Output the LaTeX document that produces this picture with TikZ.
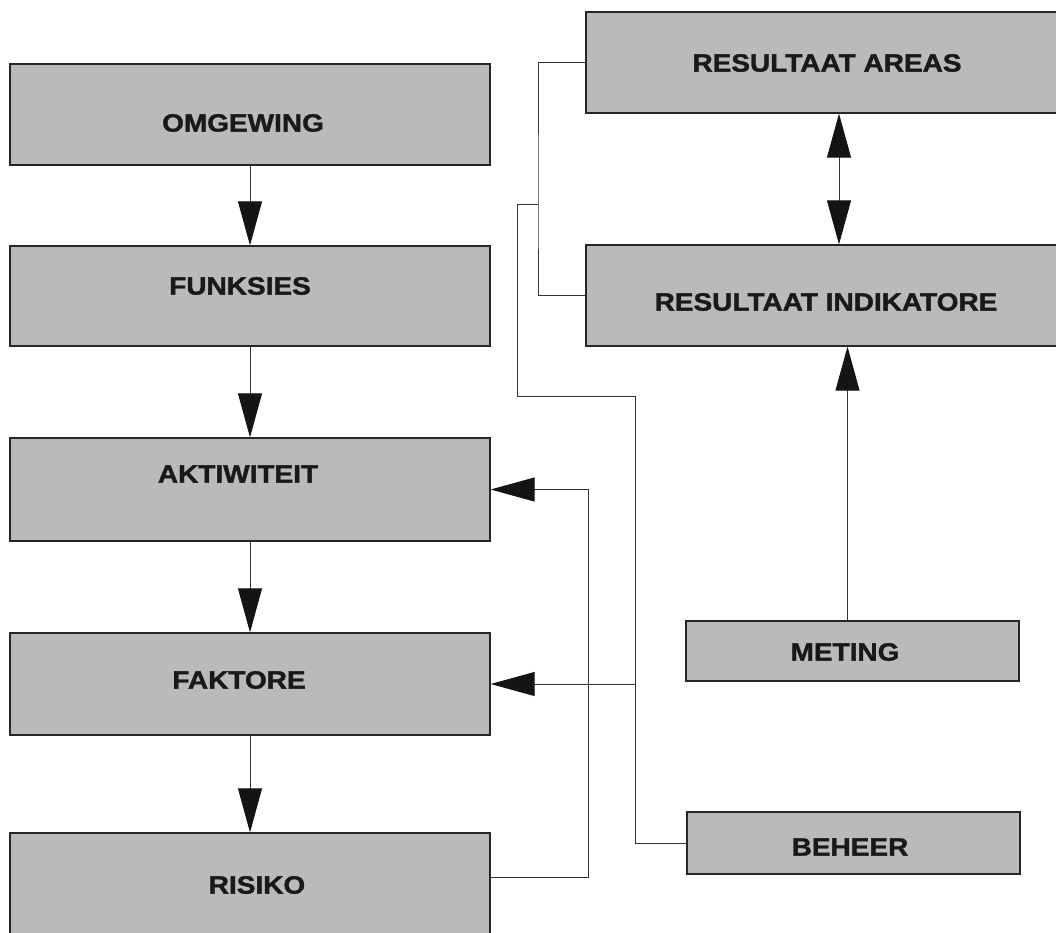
\documentclass[tikz,border=0pt]{standalone}
\usepackage{fontspec}
\newfontfamily\boxfont{Liberation Sans}[FakeStretch=1.12, FakeBold=1.5]
\usetikzlibrary{arrows.meta}
\begin{document}
\begin{tikzpicture}[x=1pt, y=-1pt,
  box/.style={draw=black!85, line width=1.3pt, fill=black!27, inner sep=0pt},
  lbl/.style={inner sep=0pt, text=black!90, font=\boxfont\bfseries\fontsize{25}{30}\selectfont},
  conn/.style={draw=black!80, line width=0.9pt},
  arr/.style={conn, -{Triangle[length=44pt, width=24pt, color=black!92]}},
  dblarr/.style={conn, {Triangle[length=44pt, width=24pt, color=black!92]}-{Triangle[length=44pt, width=24pt, color=black!92]}}]
\useasboundingbox (0,0) rectangle (1056,933);

% left column: chain of boxes
\node[box, minimum width=480pt, minimum height=101pt] (omg) at (250,114.5) {};
\node[box, minimum width=480pt, minimum height=100pt] (fun) at (250,296) {};
\node[box, minimum width=480pt, minimum height=103pt] (akt) at (250,489.5) {};
\node[box, minimum width=480pt, minimum height=102pt] (fak) at (250,684) {};
\node[box, minimum width=480pt, minimum height=102pt] (ris) at (250,884) {};

% right column
\node[box, minimum width=506pt, minimum height=101pt] (ra)  at (839,62.5) {};
\node[box, minimum width=506pt, minimum height=101pt] (ri)  at (839,295.5) {};
\node[box, minimum width=333pt, minimum height=60pt]  (met) at (852.5,651) {};
\node[box, minimum width=333pt, minimum height=62pt]  (beh) at (853.5,843) {};

% box texts
\node[lbl] (t-omg) at (243,123) {OMGEWING};
\node[lbl] (t-fun) at (240,286) {FUNKSIES};
\node[lbl] (t-akt) at (238,474) {AKTIWITEIT};
\node[lbl] (t-fak) at (239,680) {FAKTORE};
\node[lbl] (t-ris) at (257,885) {RISIKO};
\node[lbl] (t-ra)  at (827,63)  {RESULTAAT AREAS};
\node[lbl] (t-ri)  at (826,302) {RESULTAAT INDIKATORE};
\node[lbl] (t-met) at (845,652) {METING};
\node[lbl] (t-beh) at (850,847) {BEHEER};

% main chain arrows
\draw[arr] (omg.south) -- (fun.north);
\draw[arr] (fun.south) -- (akt.north);
\draw[arr] (akt.south) -- (fak.north);
\draw[arr] (fak.south) -- (ris.north);

% result areas <-> indicators, measuring -> indicators
\draw[dblarr] (ra.south) -- (ri.north);
\draw[arr] ([xshift=-5pt]met.north) -- ([xshift=-5pt]met.north |- ri.south);

% feedback from risk to activity
\coordinate (rk) at (588,877);
\draw[arr] (ris.east |- rk) -- (rk) -- (rk |- akt.east) -- (akt.east);

% management routing
\coordinate (m1) at (635,396);
\coordinate (m2) at (517,396);
\coordinate (m3) at (517,204);
\coordinate (m4) at (538,204);
\draw[arr] (beh.west) -| (m1 |- fak.east) -- (fak.east);
\draw[conn] (m1 |- fak.east) -- (m1) -- (m2) -- (m3) -- (m4);
\draw[conn] (ra.west) -| (m4) |- (ri.west);
\end{tikzpicture}
\end{document}
